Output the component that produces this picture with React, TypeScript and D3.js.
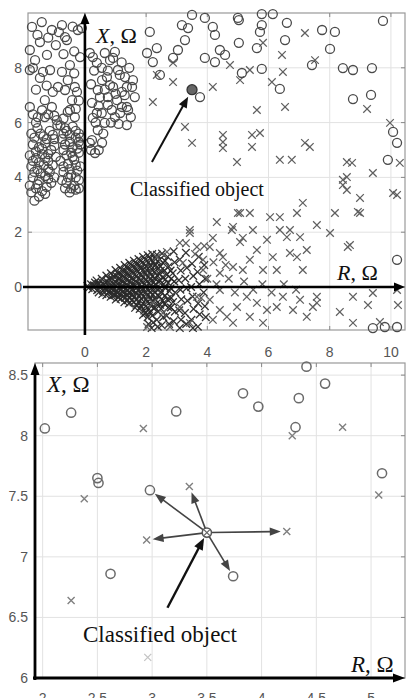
import React from "react";
import * as d3 from "d3";

type Pt = [number, number];

// ---- top panel: whole feature space (R, X) ----
const topCircles: Pt[] = [
  // upper left group
  [-1.73, 9.49], [-1.41, 9.67], [-1.08, 9.38], [-0.75, 9.56], [-0.65, 9.12], [-1.47, 8.94],
  [-1.8, 8.65], [-1.63, 8.28], [-1.8, 7.92], [-1.14, 7.92], [-1.47, 7.63], [-0.88, 7.3],
  [-0.56, 7.55], [-0.65, 7.19], [-1.05, 7.12], [-0.33, 7.3], [-0.26, 7.12], [-1.31, 6.82],
  [-1.08, 6.57], [-1.8, 6.57], [-1.54, 6.2], [-0.92, 6.09], [-0.49, 6.46], [-0.65, 5.8],
  [-0.33, 6.2], [-0.16, 8.39], [-0.1, 9.45], [-0.59, 9.01], [-1.37, 7.85], [-0.42, 6.82],
  [-1.31, 6.2], [-0.56, 6.39], [-0.95, 8.83], [-1.24, 8.47], [-0.49, 8.1], [-0.23, 9.38],
  [-1.6, 6.0], [-1.2, 6.3], [-0.9, 5.9],
  [-1.7, 6.3], [-1.4, 6.45], [-1.0, 6.25], [-0.7, 6.15], [-0.3, 6.5], [-0.2, 6.8],
  [-1.6, 7.2], [-1.25, 7.35], [-0.75, 7.85], [-0.35, 7.8], [-1.55, 9.2], [-1.2, 9.1],
  [-0.85, 9.3], [-0.4, 9.5], [-1.7, 8.0], [-0.7, 8.5], [-0.35, 8.6],
  // dense lower left clusters
  [-1.75, 5.6], [-1.55, 5.8], [-1.35, 5.5], [-1.15, 5.7], [-1.0, 5.4], [-1.7, 5.2],
  [-1.5, 5.1], [-1.3, 5.25], [-1.1, 5.0], [-1.8, 4.8], [-1.6, 4.7], [-1.4, 4.85],
  [-1.2, 4.6], [-0.95, 4.75], [-1.75, 4.4], [-1.55, 4.3], [-1.35, 4.45], [-1.15, 4.2],
  [-1.7, 4.0], [-1.5, 3.9], [-1.3, 4.05], [-1.1, 3.8], [-1.6, 3.6], [-1.4, 3.5],
  [-1.8, 3.7], [-1.5, 3.3], [-1.25, 3.65], [-1.65, 3.15],
  [-1.65, 5.45], [-1.45, 5.6], [-1.25, 5.4], [-1.05, 5.55], [-1.6, 4.95], [-1.4, 5.05],
  [-1.2, 4.85], [-1.0, 5.15], [-1.7, 4.6], [-1.5, 4.55], [-1.3, 4.7], [-1.05, 4.45],
  [-1.65, 4.2], [-1.45, 4.15], [-1.2, 4.3], [-1.0, 4.0], [-1.55, 3.75], [-1.3, 3.4],
  [-1.75, 3.45], [-1.2, 3.95],
  [-0.8, 5.9], [-0.6, 5.7], [-0.4, 5.85], [-0.2, 5.6], [-0.75, 5.4], [-0.5, 5.3],
  [-0.3, 5.45], [-0.15, 5.2], [-0.7, 5.0], [-0.45, 4.9], [-0.25, 5.05], [-0.8, 4.6],
  [-0.55, 4.5], [-0.35, 4.65], [-0.15, 4.4], [-0.7, 4.2], [-0.45, 4.1], [-0.25, 4.25],
  [-0.6, 3.8], [-0.35, 3.7], [-0.2, 3.9], [-0.5, 3.45], [-0.3, 3.55], [-0.75, 3.9],
  [-0.7, 5.6], [-0.5, 5.55], [-0.3, 5.7], [-0.15, 5.45], [-0.65, 5.2], [-0.4, 5.1],
  [-0.2, 5.3], [-0.6, 4.8], [-0.4, 4.75], [-0.2, 4.9], [-0.7, 4.4], [-0.5, 4.3],
  [-0.3, 4.45], [-0.55, 4.0], [-0.3, 4.0], [-0.45, 3.6], [-0.2, 3.6], [-0.65, 3.6],
  // right of the X axis
  [0.16, 8.54], [0.39, 8.18], [0.65, 8.54], [0.82, 8.28], [0.98, 8.58], [1.08, 7.92],
  [1.31, 7.66], [1.54, 7.3], [1.63, 6.93], [1.41, 6.46], [1.21, 6.57], [0.88, 6.46],
  [0.65, 5.99], [0.42, 5.73], [0.23, 5.36], [0.56, 5.26], [0.33, 4.89], [1.37, 5.91],
  [0.98, 6.2], [0.75, 6.93], [0.42, 7.19], [0.56, 7.55], [0.92, 7.3], [1.21, 7.12],
  [0.23, 6.72], [0.39, 6.35], [0.72, 7.66], [1.57, 7.55], [1.37, 7.3], [1.05, 6.82],
  [0.26, 6.17], [0.16, 5.26], [0.49, 6.93], [0.92, 8.36], [0.26, 8.39], [1.14, 7.74],
  [1.37, 6.57], [0.82, 7.37],
  [0.3, 7.9], [0.55, 8.0], [0.75, 7.9], [0.2, 7.4], [0.65, 7.2], [1.0, 7.05],
  [1.3, 7.0], [0.45, 6.6], [0.75, 6.65], [1.15, 6.35], [0.55, 6.35], [0.35, 6.0],
  [0.85, 6.0], [1.1, 5.95], [0.6, 5.6], [0.2, 5.0], [0.45, 5.0], [1.5, 6.2],
  [1.2, 8.2], [1.45, 8.0],
  // upper middle
  [2.03, 8.54], [2.22, 8.21], [2.35, 8.72], [2.45, 7.74], [2.88, 8.36], [3.04, 8.65],
  [3.27, 9.01], [3.37, 9.45], [3.17, 9.56], [3.5, 9.93], [2.12, 9.31],
  [3.92, 9.82], [4.18, 9.49], [4.25, 9.2], [5.0, 9.82], [5.03, 9.74], [5.78, 9.96],
  [6.14, 9.96], [5.78, 9.56], [5.72, 9.31], [6.6, 9.64], [6.54, 9.01], [5.62, 8.72],
  [5.03, 8.91], [7.75, 9.38], [8.17, 9.31], [8.01, 8.69], [9.74, 9.71], [4.41, 8.65],
  [4.58, 8.47], [3.92, 8.36], [4.25, 8.21], [5.13, 7.81], [5.78, 7.96], [7.42, 8.1],
  [8.43, 7.99], [8.76, 7.92], [9.38, 7.99], [6.37, 7.23], [8.76, 6.86], [9.35, 7.01],
  [3.76, 6.93], [10.07, 5.66], [10.2, 5.26], [9.9, 4.64],
  // lower right edge
  [9.41, -1.5], [9.8, -1.46], [10.2, -1.46], [10.2, 0.99],
];

const topCrosses: Pt[] = [
  [2.88, 8.18], [2.35, 7.74], [2.22, 6.75], [3.27, 5.84], [3.5, 5.26], [2.88, 7.48],
  [7.19, 9.27], [5.82, 8.91], [6.44, 8.47], [4.74, 8.1], [5.39, 7.92], [5.07, 7.55],
  [6.47, 7.85], [6.11, 7.48], [7.52, 8.28], [4.18, 7.3], [5.62, 6.46], [6.54, 6.57],
  [9.22, 6.5], [4.51, 5.55], [4.51, 5.29], [4.51, 5.07], [5.46, 5.55], [5.72, 5.62],
  [5.46, 5.11], [7.19, 5.26], [7.35, 5.11], [6.37, 4.64], [6.76, 4.64], [4.97, 4.56],
  [8.56, 4.56], [8.73, 4.53], [9.41, 4.16], [8.56, 4.01], [10.29, 4.53], [9.97, 5.99],
  [8.43, 3.91], [8.56, 3.54], [8.99, 3.25], [10.2, 3.36], [8.99, 2.7], [8.17, 2.7],
  [8.01, 1.97], [7.58, 2.26], [7.12, 3.07], [6.93, 2.7], [6.7, 2.08], [6.37, 2.55],
  [6.05, 2.55], [5.39, 2.7], [5.0, 2.7], [4.31, 2.37], [4.8, 2.08], [5.16, 1.79],
  [5.49, 2.08], [5.95, 1.72], [6.37, 2.08], [6.6, 1.82], [7.03, 1.82], [7.25, 1.35],
  [6.93, 1.09], [7.12, 0.62], [8.59, 1.46], [6.7, 1.24], [6.14, 1.09], [5.62, 1.35],
  [5.39, 0.99], [5.82, 0.62], [6.27, 0.62], [5.16, 0.62], [4.84, 0.73], [4.41, 1.24],
  [4.08, 1.46], [3.86, 0.62], [4.41, 0.51], [8.76, -0.36], [9.41, -0.22], [10.2, -0.11],
  [9.25, -0.66], [8.33, -0.91], [8.76, -1.31], [9.64, -1.28], [10.23, -0.66], [7.58, -0.36],
  [7.45, -0.73], [7.03, -0.47], [6.8, -0.84], [7.25, -1.09], [6.47, -0.36], [6.27, -0.73],
  [5.95, -0.84], [5.62, -0.58], [5.29, -0.36], [4.97, -0.73], [5.39, -1.09], [5.82, -1.31],
  [4.41, -0.84], [4.08, -0.47], [4.64, -1.09], [4.84, -1.31], [4.18, -1.2],
  [3.43, 2.08], [4.84, 2.19], [3.1, 1.61], [3.66, 1.46], [2.68, 1.28], [2.35, 1.09],
  [4.18, 1.79], [5.07, 1.64], [3.86, 0.99], [3.2, 0.88], [4.51, 1.09], [5.07, 2.7],
  [2.22, -0.58], [2.55, -0.95], [3.1, -0.73], [3.66, -0.36], [3.43, -1.31], [2.78, -1.46],
  [2.03, -1.46], [4.41, -0.11], [8.43, 3.72], [10.07, 3.43], [8.92, 2.74], [8.66, 1.53],
  [7.58, -0.58], [3.43, 1.97], [3.3, 1.6], [3.6, 1.2], [3.9, 1.5], [4.2, 0.9], [4.6, 0.8],
  [4.0, 0.3], [4.3, 0.1], [4.7, 0.3], [4.9, -0.2], [5.2, 0.2], [5.5, -0.1], [5.8, 0.1],
  [6.1, -0.2], [6.5, 0.1], [6.9, -0.1], [3.8, -0.4],
];

// dense cone of crosses leaving the origin
const blobCrosses: Pt[] = [
  [0.08, 0.04], [0.12, -0.04], [0.2, 0.1], [0.24, -0.08], [0.28, 0.02], [0.33, 0.16],
  [0.38, 0.24], [0.42, 0.08], [0.4, -0.12], [0.45, -0.2], [0.5, 0.02],
  [0.55, 0.3], [0.58, 0.14], [0.52, -0.02], [0.6, -0.14], [0.57, -0.26],
  [0.7, 0.42], [0.72, 0.2], [0.68, 0.05], [0.74, -0.1], [0.7, -0.3],
  [0.85, 0.5], [0.88, 0.3], [0.82, 0.12], [0.86, -0.05], [0.9, -0.2], [0.84, -0.36],
  [1.0, 0.62], [1.03, 0.4], [0.98, 0.2], [1.02, 0.04], [1.05, -0.15], [0.97, -0.3], [1.01, -0.46],
  [1.15, 0.7], [1.18, 0.48], [1.12, 0.28], [1.16, 0.1], [1.2, -0.08], [1.13, -0.25], [1.17, -0.43],
  [1.3, 0.8], [1.33, 0.58], [1.28, 0.36], [1.31, 0.15], [1.35, -0.05], [1.27, -0.22], [1.32, -0.4], [1.29, -0.56],
  [1.45, 0.88], [1.48, 0.66], [1.42, 0.42], [1.46, 0.2], [1.5, 0.0], [1.43, -0.2], [1.47, -0.38], [1.44, -0.6],
  [1.6, 0.96], [1.63, 0.72], [1.58, 0.5], [1.61, 0.28], [1.65, 0.06], [1.57, -0.15], [1.62, -0.35], [1.59, -0.56], [1.64, -0.76],
  [1.75, 1.02], [1.78, 0.8], [1.72, 0.56], [1.76, 0.32], [1.8, 0.1], [1.73, -0.12], [1.77, -0.32], [1.74, -0.55], [1.79, -0.8],
  [1.9, 1.1], [1.93, 0.86], [1.88, 0.6], [1.91, 0.36], [1.95, 0.12], [1.87, -0.1], [1.92, -0.35], [1.89, -0.6], [1.94, -0.86], [1.9, -1.02],
  [2.05, 1.16], [2.08, 0.9], [2.02, 0.62], [2.06, 0.38], [2.1, 0.15], [2.03, -0.08], [2.07, -0.3], [2.04, -0.55], [2.09, -0.8], [2.05, -1.1], [2.08, -1.35],
  [2.2, 1.2], [2.23, 0.92], [2.18, 0.66], [2.21, 0.4], [2.25, 0.18], [2.17, -0.05], [2.22, -0.28], [2.19, -0.52], [2.24, -0.78], [2.2, -1.05], [2.23, -1.3], [2.18, -1.5],
  [2.35, 1.18], [2.38, 0.95], [2.33, 0.7], [2.36, 0.42], [2.4, 0.2], [2.32, -0.05], [2.37, -0.3], [2.34, -0.6], [2.39, -0.9], [2.35, -1.2], [2.38, -1.45],
  [2.52, 1.22], [2.55, 0.88], [2.48, 0.6], [2.53, 0.35], [2.57, 0.1], [2.5, -0.2], [2.54, -0.5], [2.49, -0.8], [2.56, -1.1], [2.51, -1.4],
  [2.7, 1.1], [2.74, 0.75], [2.68, 0.45], [2.72, 0.15], [2.76, -0.15], [2.69, -0.45], [2.73, -0.75], [2.67, -1.05], [2.75, -1.35],
  [2.9, 1.3], [2.93, 0.9], [2.87, 0.5], [2.92, 0.2], [2.95, -0.2], [2.88, -0.55], [2.94, -0.9], [2.9, -1.25],
  [3.1, 1.0], [3.13, 0.6], [3.07, 0.25], [3.12, -0.1], [3.15, -0.45], [3.08, -0.85], [3.14, -1.2], [3.1, -1.5],
  [3.3, 1.25], [3.33, 0.7], [3.28, 0.3], [3.32, -0.05], [3.35, -0.5], [3.27, -0.95], [3.31, -1.35],
  [3.5, 0.85], [3.54, 0.4], [3.47, 0.0], [3.52, -0.35], [3.55, -0.8], [3.48, -1.2], [3.53, -1.5],
  [3.72, 1.1], [3.68, 0.55], [3.74, 0.1], [3.7, -0.6], [3.75, -1.0], [3.69, -1.45],
  [3.9, 0.8], [3.93, 0.3], [3.88, -0.2], [3.92, -0.7], [3.95, -1.1],
];

// second, darker layer of the cone core
const blobCore: Pt[] = [
  [0.3, 0.06], [0.45, 0.12], [0.62, 0.08], [0.65, -0.06], [0.78, 0.3], [0.8, 0.02], [0.78, -0.18],
  [0.93, 0.4], [0.95, 0.1], [0.92, -0.12], [0.94, -0.28], [1.08, 0.5], [1.1, 0.3], [1.08, 0.12],
  [1.1, -0.05], [1.07, -0.22], [1.09, -0.38], [1.23, 0.6], [1.25, 0.4], [1.22, 0.2], [1.24, 0.0],
  [1.23, -0.18], [1.25, -0.35], [1.38, 0.7], [1.4, 0.48], [1.37, 0.28], [1.39, 0.06], [1.4, -0.12],
  [1.38, -0.3], [1.4, -0.48], [1.53, 0.78], [1.55, 0.55], [1.52, 0.32], [1.54, 0.1], [1.55, -0.1],
  [1.52, -0.28], [1.54, -0.48], [1.68, 0.85], [1.7, 0.62], [1.67, 0.4], [1.69, 0.18], [1.7, -0.02],
  [1.68, -0.22], [1.7, -0.45], [1.69, -0.66], [1.83, 0.95], [1.85, 0.7], [1.82, 0.45], [1.84, 0.22],
  [1.85, 0.0], [1.83, -0.22], [1.85, -0.45], [1.84, -0.7], [1.98, 1.0], [2.0, 0.75], [1.97, 0.5],
  [1.99, 0.25], [2.0, 0.02], [1.98, -0.2], [2.0, -0.45], [1.99, -0.7], [1.98, -0.95], [2.13, 1.05],
  [2.15, 0.78], [2.12, 0.52], [2.14, 0.28], [2.15, 0.05], [2.13, -0.18], [2.15, -0.42], [2.14, -0.66],
  [2.13, -0.92], [2.28, 1.05], [2.3, 0.8], [2.27, 0.55], [2.29, 0.3], [2.3, 0.08], [2.28, -0.18],
  [2.3, -0.45], [2.29, -0.75], [2.45, 1.0], [2.47, 0.75], [2.44, 0.48], [2.46, 0.22], [2.45, -0.05],
  [2.44, -0.35], [2.46, -0.65], [2.62, 0.95], [2.6, 0.6], [2.63, 0.28], [2.61, -0.02], [2.62, -0.32],
  [2.6, -0.62], [2.8, 0.6], [2.82, 0.3], [2.8, -0.05], [2.82, -0.4], [2.81, -0.75],
];

const classified: Pt = [3.5, 7.2];

// ---- bottom panel: zoom around the classified object ----
const zoomCircles: Pt[] = [
  [2.02, 8.06], [2.26, 8.19], [3.22, 8.2], [2.5, 7.65], [2.51, 7.61], [2.98, 7.55],
  [3.83, 8.35], [3.97, 8.24], [4.34, 8.31], [4.41, 8.57], [4.58, 8.43], [4.31, 8.07],
  [5.1, 7.69], [2.62, 6.86], [3.74, 6.84],
];
const zoomCrosses: Pt[] = [
  [2.92, 8.06], [2.38, 7.48], [3.34, 7.58], [4.28, 8.0], [4.74, 8.07], [5.07, 7.51],
  [2.95, 7.14], [2.26, 6.64], [4.23, 7.21],
];
const zoomFaintCrosses: Pt[] = [[2.96, 6.17]];
const neighbours: Pt[] = [[2.98, 7.55], [3.34, 7.58], [2.95, 7.14], [4.23, 7.21], [3.74, 6.84]];

const topXTicks = [0, 2, 4, 6, 8, 10];
const topYTicks = [0, 2, 4, 6, 8];
const zoomXTicks = [2, 2.5, 3, 3.5, 4, 4.5, 5];
const zoomYTicks = [6, 6.5, 7, 7.5, 8, 8.5];

const W = 406;
const H = 698;
const serif = "'Liberation Serif', 'Times New Roman', serif";
const sans = "'Liberation Sans', Arial, sans-serif";

const Cross = ({ x, y, s, color, w }: { x: number; y: number; s: number; color: string; w: number }) => (
  <path
    d={`M${x - s},${y - s}L${x + s},${y + s}M${x - s},${y + s}L${x + s},${y - s}`}
    stroke={color}
    strokeWidth={w}
    fill="none"
  />
);

// line with a filled triangular head at (x2,y2)
const Arrow = ({ x1, y1, x2, y2, w, color, hl, hw, trimStart = 0, trimEnd = 0 }: any) => {
  const dx = x2 - x1;
  const dy = y2 - y1;
  const L = Math.hypot(dx, dy);
  const ux = dx / L;
  const uy = dy / L;
  const sx = x1 + ux * trimStart;
  const sy = y1 + uy * trimStart;
  const tx = x2 - ux * trimEnd;
  const ty = y2 - uy * trimEnd;
  const bx = tx - ux * hl;
  const by = ty - uy * hl;
  const nx = -uy;
  const ny = ux;
  return (
    <g>
      <line x1={sx} y1={sy} x2={bx + ux * 2} y2={by + uy * 2} stroke={color} strokeWidth={w} />
      <polygon
        points={`${tx},${ty} ${bx + nx * hw},${by + ny * hw} ${bx - nx * hw},${by - ny * hw}`}
        fill={color}
      />
    </g>
  );
};

const TopPanel = () => {
  const x = d3.scaleLinear().domain([-1.86, 10.46]).range([28, 405]);
  const y = d3.scaleLinear().domain([-1.57, 10]).range([330, 13]);
  const [x0, x1] = x.range();
  const [y0, y1] = y.range();
  const cx = x(classified[0]);
  const cy = y(classified[1]);

  return (
    <g>
      {topXTicks.map((t) => (
        <line key={"gx" + t} x1={x(t)} x2={x(t)} y1={y0} y2={y1} stroke="#e2e2e2" />
      ))}
      {topYTicks.map((t) => (
        <line key={"gy" + t} x1={x0} x2={x1} y1={y(t)} y2={y(t)} stroke="#e2e2e2" />
      ))}
      <rect x={x0} y={y1} width={x1 - x0} height={y0 - y1} fill="none" stroke="#999" strokeWidth={1.2} />
      {topXTicks.map((t) => (
        <g key={"tx" + t}>
          <line x1={x(t)} x2={x(t)} y1={y1} y2={y1 + 4} stroke="#888" />
          <line x1={x(t)} x2={x(t)} y1={y0} y2={y0 - 4} stroke="#888" />
        </g>
      ))}
      {topYTicks.map((t) => (
        <g key={"ty" + t}>
          <line x1={x0} x2={x0 + 4} y1={y(t)} y2={y(t)} stroke="#888" />
          <line x1={x1} x2={x1 - 4} y1={y(t)} y2={y(t)} stroke="#888" />
        </g>
      ))}

      {blobCrosses.map((d, i) => (
        <Cross key={"b" + i} x={x(d[0])} y={y(d[1])} s={3.8} color="#333" w={1.3} />
      ))}
      {blobCore.map((d, i) => (
        <Cross key={"k" + i} x={x(d[0])} y={y(d[1])} s={3.8} color="#2a2a2a" w={1.3} />
      ))}
      {topCrosses.map((d, i) => (
        <Cross key={"c" + i} x={x(d[0])} y={y(d[1])} s={3.8} color="#606060" w={1.25} />
      ))}
      {topCircles.map((d, i) => (
        <circle key={"o" + i} cx={x(d[0])} cy={y(d[1])} r={4.5} fill="none" stroke="#4a4a4a" strokeWidth={1.3} />
      ))}
      <circle cx={cx} cy={cy} r={5} fill="#666" stroke="#333" strokeWidth={1.3} />

      {/* axes with arrows */}
      <Arrow x1={x(0)} y1={y0 + 5} x2={x(0)} y2={y1} w={2.6} color="#000" hl={11} hw={4.5} />
      <Arrow x1={x0 - 5} y1={y(0)} x2={x1} y2={y(0)} w={2.6} color="#000" hl={11} hw={4.5} />

      {topXTicks.map((t) => (
        <text key={"lx" + t} x={x(t)} y={357} textAnchor="middle" fontFamily={sans} fontSize={14} fill="#555">
          {t}
        </text>
      ))}
      {topYTicks.map((t) => (
        <text key={"ly" + t} x={22} y={y(t)} dy="0.36em" textAnchor="end" fontFamily={sans} fontSize={14} fill="#555">
          {t}
        </text>
      ))}

      <text x={96} y={43} fontFamily={serif} fontSize={22} fill="#111">
        <tspan fontStyle="italic">X</tspan>, Ω
      </text>
      <text x={337} y={280} fontFamily={serif} fontSize={22} fill="#111">
        <tspan fontStyle="italic">R</tspan>, Ω
      </text>
      <text x={130} y={196} fontFamily={serif} fontSize={20} fill="#111">
        Classified object
      </text>
      <Arrow x1={x(2.19)} y1={y(4.56)} x2={cx} y2={cy} w={2} color="#111" hl={11} hw={4.5} trimEnd={8} />
    </g>
  );
};

const BottomPanel = () => {
  const x = d3.scaleLinear().domain([1.93, 5.31]).range([35, 405]);
  const y = d3.scaleLinear().domain([6, 8.6]).range([678, 363]);
  const [x0, x1] = x.range();
  const [y0, y1] = y.range();
  const ox = x(classified[0]);
  const oy = y(classified[1]);

  return (
    <g>
      {zoomXTicks.map((t) => (
        <line key={"gx" + t} x1={x(t)} x2={x(t)} y1={y0} y2={y1} stroke="#e2e2e2" />
      ))}
      {zoomYTicks.map((t) => (
        <line key={"gy" + t} x1={x0} x2={x1} y1={y(t)} y2={y(t)} stroke="#e2e2e2" />
      ))}
      <rect x={x0} y={y1} width={x1 - x0} height={y0 - y1} fill="none" stroke="#999" strokeWidth={1.2} />
      {zoomXTicks.map((t) => (
        <line key={"tx" + t} x1={x(t)} x2={x(t)} y1={y1} y2={y1 + 4} stroke="#888" />
      ))}
      {zoomYTicks.map((t) => (
        <line key={"ty" + t} x1={x1} x2={x1 - 4} y1={y(t)} y2={y(t)} stroke="#888" />
      ))}

      {zoomFaintCrosses.map((d, i) => (
        <Cross key={"f" + i} x={x(d[0])} y={y(d[1])} s={3.5} color="#c4c4c4" w={1.3} />
      ))}
      {zoomCrosses.map((d, i) => (
        <Cross key={"c" + i} x={x(d[0])} y={y(d[1])} s={3.5} color="#808080" w={1.4} />
      ))}
      {zoomCircles.map((d, i) => (
        <circle key={"o" + i} cx={x(d[0])} cy={y(d[1])} r={4.6} fill="none" stroke="#6a6a6a" strokeWidth={1.5} />
      ))}

      {neighbours.map((d, i) => (
        <Arrow
          key={"n" + i}
          x1={ox}
          y1={oy}
          x2={x(d[0])}
          y2={y(d[1])}
          w={1.6}
          color="#444"
          hl={11}
          hw={4.2}
          trimStart={4}
          trimEnd={6}
        />
      ))}
      <circle cx={ox} cy={oy} r={4.6} fill="#fff" stroke="#555" strokeWidth={1.5} />
      <Cross x={ox} y={oy} s={3} color="#666" w={1.3} />

      <Arrow x1={x0} y1={y0 + 2} x2={x0} y2={y1} w={2.8} color="#000" hl={12} hw={4.5} />
      <Arrow x1={x0 - 2} y1={y0} x2={x1} y2={y0} w={2.8} color="#000" hl={12} hw={4.5} />

      {zoomXTicks.map((t) => (
        <text key={"lx" + t} x={x(t)} y={703} textAnchor="middle" fontFamily={sans} fontSize={14} fill="#555">
          {t}
        </text>
      ))}
      {zoomYTicks.map((t) => (
        <text key={"ly" + t} x={28} y={y(t)} dy="0.36em" textAnchor="end" fontFamily={sans} fontSize={14} fill="#555">
          {t}
        </text>
      ))}

      <text x={47} y={392} fontFamily={serif} fontSize={23} fill="#111">
        <tspan fontStyle="italic">X</tspan>, Ω
      </text>
      <text x={351} y={672} fontFamily={serif} fontSize={23} fill="#111">
        <tspan fontStyle="italic">R</tspan>, Ω
      </text>
      <text x={83} y={642} fontFamily={serif} fontSize={23} fill="#111">
        Classified object
      </text>
      <Arrow x1={x(3.14)} y1={y(6.58)} x2={ox} y2={oy} w={2.4} color="#111" hl={12} hw={4.8} trimEnd={6} />
    </g>
  );
};

export default function App() {
  return (
    <svg width={W} height={H} style={{ position: "absolute", left: 0, top: 0, background: "#fff" }}>
      <rect width={W} height={H} fill="#fff" />
      <TopPanel />
      <BottomPanel />
    </svg>
  );
}
